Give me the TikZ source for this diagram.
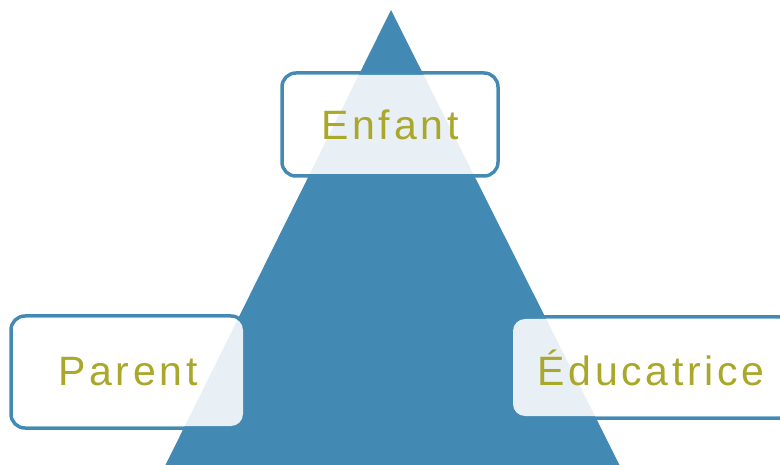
\documentclass[tikz,border=0pt]{standalone}
\usepackage{fontspec}
\setmainfont{Liberation Sans}[LetterSpace=9]
\definecolor{pyramid}{RGB}{66,138,180}
\definecolor{olive}{RGB}{170,168,42}
\tikzset{
  frame/.style={draw=pyramid, line width=3.5pt, rounded corners=14pt},
  card/.style={fill=white, fill opacity=0.88, text opacity=1, rounded corners=12pt,
    inner sep=0pt, text=olive, font=\fontsize{41}{44}\selectfont},
}
\begin{document}
\begin{tikzpicture}[x=1pt,y=-1pt]
\useasboundingbox (0,0) rectangle (780,465);
% outlines behind the pyramid
\draw[frame] (282,73) rectangle (498,176);
\draw[frame] (11,316) rectangle (245,428);
\draw[frame] (522,317) rectangle (820,418);
% pyramid
\coordinate (top) at (391,10);
\coordinate (bl) at (165,466);
\coordinate (br) at (620,466);
\fill[pyramid] (top) -- (bl) -- (br) -- cycle;
% cards
\node[card, minimum width=212pt, minimum height=99pt] (enfant) at (390,124.5) {Enfant};
\node[card, minimum width=230pt, minimum height=108pt] (parent) at (128,372) {Parent};
\node[card, minimum width=276pt, minimum height=97pt] (educ) at (651,367.5) {Éducatrice};
\end{tikzpicture}
\end{document}
